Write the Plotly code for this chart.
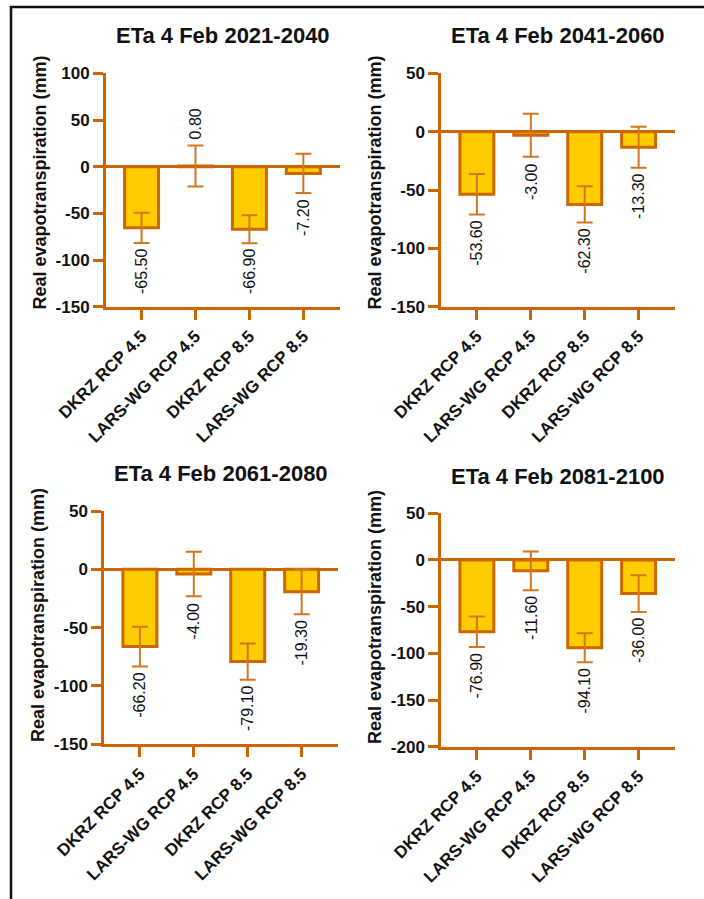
import plotly.graph_objects as go

W, H = 704, 899

categories = ["DKRZ RCP 4.5", "LARS-WG RCP 4.5", "DKRZ RCP 8.5", "LARS-WG RCP 8.5"]
titles = ["ETa 4 Feb 2021-2040", "ETa 4 Feb 2041-2060",
          "ETa 4 Feb 2061-2080", "ETa 4 Feb 2081-2100"]

eta_2021_2040 = [-65.5, 0.8, -66.9, -7.2]
eta_2041_2060 = [-53.6, -3.0, -62.3, -13.3]
eta_2061_2080 = [-66.2, -4.0, -79.1, -19.3]
eta_2081_2100 = [-76.9, -11.6, -94.1, -36.0]

err_2021_2040 = [16.2, 22.0, 15.0, 21.0]
err_2041_2060 = [17.3, 18.5, 15.5, 17.6]
err_2061_2080 = [17.0, 19.0, 15.6, 19.3]
err_2081_2100 = [16.3, 20.7, 15.5, 19.6]

y_ranges = [(-150, 100), (-150, 50), (-150, 50), (-200, 50)]
y_ticks = [[-150, -100, -50, 0, 50, 100],
           [-150, -100, -50, 0, 50],
           [-150, -100, -50, 0, 50],
           [-200, -150, -100, -50, 0, 50]]

values = [eta_2021_2040, eta_2041_2060, eta_2061_2080, eta_2081_2100]
errors = [err_2021_2040, err_2041_2060, err_2061_2080, err_2081_2100]

# plot-area boxes in pixels: left, right, top, bottom
boxes = [(106, 340, 73.4, 306.7),
         (441.3, 675.3, 73.4, 306.7),
         (104.3, 338.3, 511.0, 744.3),
         (441.3, 675.3, 513.3, 746.7)]
title_y = [35, 35, 473.3, 476]
ytitle_pos = [(40, 182.5), (375, 182.5), (38, 615), (375, 617)]

AXIS = "#CC6600"
FILL = "#FFCC00"
ERR = "#D2771E"
FONT = "Liberation Sans, Arial, sans-serif"


def px_x(x):
    return x / W


def px_y(y):
    return 1 - y / H


fig = go.Figure()
annotations = []

for i in range(4):
    left, right, top, bottom = boxes[i]
    sfx = "" if i == 0 else str(i + 1)
    xa, ya = "x" + sfx, "y" + sfx

    fig.add_trace(go.Bar(
        x=list(range(4)), y=values[i],
        xaxis=xa, yaxis=ya,
        width=0.63,
        marker=dict(color=FILL, line=dict(color=AXIS, width=3)),
        error_y=dict(type="data", array=errors[i], symmetric=True,
                     color=ERR, thickness=2, width=8),
        showlegend=False, hoverinfo="skip",
    ))

    fig.update_layout({
        "xaxis" + sfx: dict(
            domain=[px_x(left), px_x(right)], anchor=ya,
            range=[-0.66, 3.68], tickmode="array",
            tickvals=list(range(4)), ticktext=categories,
            tickangle=-45, ticks="outside", ticklen=10, tickwidth=3,
            tickcolor=AXIS, showline=True, linecolor=AXIS, linewidth=3,
            showgrid=False, zeroline=False, fixedrange=True, automargin=False,
            tickfont=dict(family=FONT, size=17, color="#111111", weight="bold"),
        ),
        "yaxis" + sfx: dict(
            domain=[px_y(bottom), px_y(top)], anchor=xa,
            range=list(y_ranges[i]), tickmode="array", tickvals=y_ticks[i],
            ticktext=[str(t) for t in y_ticks[i]],
            ticks="outside", ticklen=10, tickwidth=3, tickcolor=AXIS,
            showline=True, linecolor=AXIS, linewidth=3,
            showgrid=False, zeroline=True, zerolinecolor=AXIS,
            zerolinewidth=3, fixedrange=True, automargin=False,
            tickfont=dict(family=FONT, size=17, color="#111111", weight="bold"),
        ),
    })

    # panel title
    annotations.append(dict(
        text=titles[i], xref="paper", yref="paper",
        x=px_x((left + right) / 2), y=px_y(title_y[i]),
        xanchor="center", yanchor="middle", showarrow=False,
        font=dict(family=FONT, size=22, color="#111111", weight="bold"),
    ))
    # y-axis title
    tx, ty = ytitle_pos[i]
    annotations.append(dict(
        text="Real evapotranspiration (mm)", xref="paper", yref="paper",
        x=px_x(tx), y=px_y(ty), xanchor="center", yanchor="middle",
        textangle=-90, showarrow=False,
        font=dict(family=FONT, size=18, color="#111111", weight="bold"),
    ))
    # value labels next to the error-bar whiskers
    for j, (v, e) in enumerate(zip(values[i], errors[i])):
        if v >= 0:
            ypos, anchor, shift = v + e, "bottom", 4
        else:
            ypos, anchor, shift = v - e, "top", -4
        annotations.append(dict(
            text=f"{v:.2f}", xref=xa, yref=ya, x=j, y=ypos,
            xanchor="center", yanchor=anchor, yshift=shift,
            textangle=-90, showarrow=False,
            font=dict(family=FONT, size=16, color="#111111"),
        ))

fig.update_layout(
    width=W, height=H,
    margin=dict(l=0, r=0, t=0, b=0, autoexpand=False),
    paper_bgcolor="white", plot_bgcolor="white",
    annotations=annotations,
    shapes=[dict(type="rect", xref="paper", yref="paper",
                 x0=px_x(11), x1=px_x(740), y0=px_y(7), y1=px_y(940),
                 line=dict(color="#111111", width=2.5))],
    bargap=0.3,
)

fig.write_html("out.html")
